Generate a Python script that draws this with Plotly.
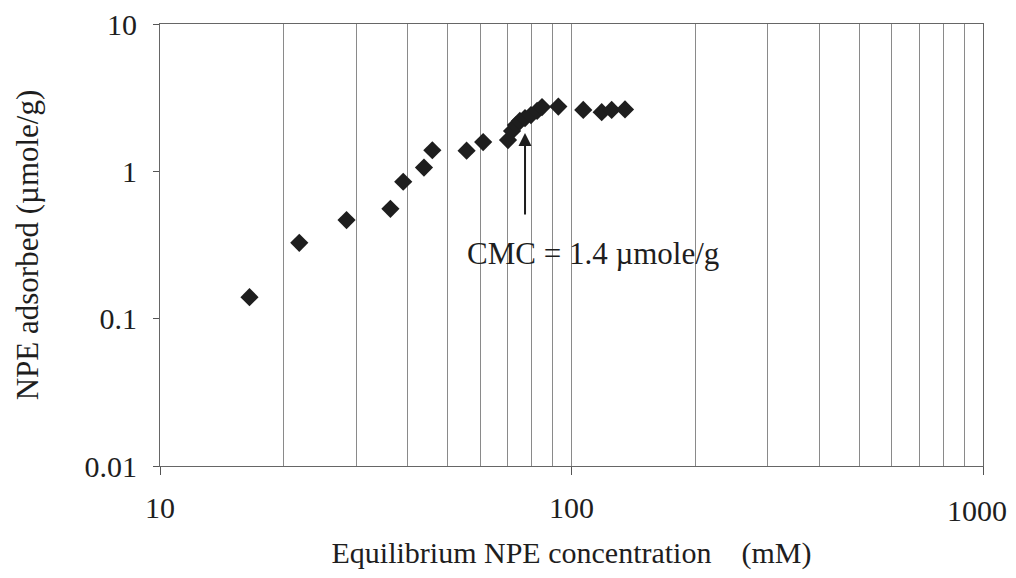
import math
import plotly.graph_objects as go

# equilibrium NPE concentration (mM) and amount adsorbed (umole/g)
conc_mM = [16.5, 21.8, 28.4, 36.3, 39.0, 43.8, 45.9, 55.6, 61.0,
           70.1, 71.7, 73.3, 74.9, 77.1, 79.7, 82.5, 84.8,
           92.9, 106.8, 118.4, 125.2, 134.9]
adsorbed = [0.140, 0.327, 0.467, 0.557, 0.850, 1.06, 1.39, 1.38, 1.58,
            1.63, 1.88, 2.06, 2.20, 2.30, 2.41, 2.57, 2.73,
            2.75, 2.61, 2.52, 2.61, 2.63]

x_major = [10, 100, 1000]
# the last label is drawn as an annotation, nudged left so it stays inside the window
x_labels = ["10", "100", ""]
x_edge_label = "1000"
x_minor = [20, 30, 40, 50, 60, 70, 80, 90, 200, 300, 400, 500, 600, 700, 800, 900]
y_ticks = [0.01, 0.1, 1, 10]
y_labels = ["0.01", "0.1", "1", "10"]

cmc_x = 77.1      # where the arrow points
cmc_label = "CMC = 1.4 \u00b5mole/g"

FONT = "Liberation Serif, Times New Roman, serif"
INK = "#1e1e1e"

fig = go.Figure()

fig.add_trace(go.Scatter(
    x=conc_mM,
    y=adsorbed,
    mode="markers",
    marker=dict(symbol="diamond", size=14, color=INK),
    showlegend=False,
))

# arrow marking the CMC (log axes -> annotation positions in log10 units)
fig.add_annotation(
    x=math.log10(cmc_x), y=math.log10(1.82),
    ax=0, ay=83, xref="x", yref="y",
    showarrow=True, arrowhead=2, arrowsize=1.3, arrowwidth=2, arrowcolor=INK,
    text="",
)
fig.add_annotation(
    x=math.log10(112.7), y=math.log10(0.279),
    xref="x", yref="y", showarrow=False,
    text=cmc_label, font=dict(family=FONT, size=31, color=INK),
)
fig.add_annotation(
    x=math.log10(x_major[-1]), y=0, xref="x", yref="paper",
    xanchor="center", yanchor="middle", xshift=-6, yshift=-44,
    showarrow=False, text=x_edge_label, font=dict(family=FONT, size=30, color=INK),
)

# page body has an 8px margin, so size the figure to fit the window without scrolling
fig.update_layout(
    width=1008, height=562,
    margin=dict(l=152, r=33, t=16, b=104, autoexpand=False),
    paper_bgcolor="white", plot_bgcolor="white",
    font=dict(family=FONT, size=30, color=INK),
)

fig.update_xaxes(
    type="log", range=[1, 3],
    tickvals=x_major, ticktext=x_labels,
    ticks="outside", ticklen=8, tickcolor="#555", tickwidth=1,
    ticklabelstandoff=7, ticklabeloverflow="allow",
    showgrid=True, gridcolor="#8a8a8a", gridwidth=1,
    minor=dict(tickvals=x_minor, showgrid=True, gridcolor="#8a8a8a", gridwidth=1, ticks=""),
    showline=True, linecolor="#666", linewidth=1, mirror=True,
    zeroline=False, automargin=False,
    tickfont=dict(size=30),
    title=dict(text="Equilibrium NPE concentration \u00a0\u00a0\u00a0(mM)", standoff=20, font=dict(size=30)),
)

fig.update_yaxes(
    type="log", range=[-2, 1],
    tickvals=y_ticks, ticktext=y_labels,
    ticks="outside", ticklen=6, tickcolor="#555", tickwidth=1,
    ticklabelstandoff=10, ticklabeloverflow="allow",
    showgrid=False,
    showline=True, linecolor="#666", linewidth=1, mirror=True,
    zeroline=False, automargin=False,
    tickfont=dict(size=30),
    title=dict(text="NPE adsorbed (\u00b5mole/g)", standoff=36, font=dict(size=31)),
)

fig.write_html("out.html")
